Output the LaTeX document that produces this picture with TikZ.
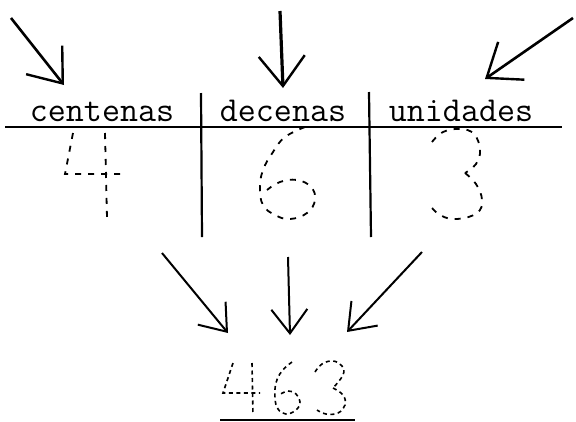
\documentclass[tikz,border=0pt]{standalone}
\usepackage{fontspec}
\usetikzlibrary{arrows.meta, positioning}

\begin{document}
\begin{tikzpicture}[
  x=1pt, y=-1pt,
  colhead/.style = {font=\fontsize{35}{38}\selectfont\ttfamily, inner sep=0pt, anchor=base},
  rule/.style    = {line width=2.2pt},
  bigarr/.style  = {-{Straight Barb[length=30pt, width=46pt, line width=2.4pt]}, line width=2.6pt},
  smallarr/.style= {-{Straight Barb[length=24pt, width=36pt, line width=2pt]}, line width=2pt},
  trace/.style   = {line width=1.8pt, dash pattern=on 6pt off 7pt},
  tracesm/.style = {line width=1.6pt, dash pattern=on 4pt off 3.5pt},
]
\useasboundingbox (0,0) rectangle (576,421);

% ── Column headings ───────────────────────────────────────────────────────────
\node[colhead] (cent) at (102,121) {centenas};
\node[colhead] (dec)  at (283,121) {decenas};
\node[colhead] (unid) at (461,121) {unidades};

% ── Table rules ───────────────────────────────────────────────────────────────
\coordinate (hl) at (5,127);
\coordinate (hr) at (562,127);
\draw[rule] (hl) -- (hr);
\draw[rule] (201,93) -- (202,237);
\draw[rule] (369,92) -- (371,237);

% ── Arrows into the table ─────────────────────────────────────────────────────
\coordinate (inC) at (11,18);
\coordinate (inD) at (280,11);
\coordinate (inU) at (573,18);
\coordinate (tipC) at (64,85);
\coordinate (tipD) at (283,88);
\coordinate (tipU) at (485,79);
\draw[bigarr] (inC) -- (tipC);
\draw[bigarr, line width=3.2pt] (inD) -- (tipD);
\draw[bigarr] (inU) -- (tipU);

% ── Traced digits in the table ────────────────────────────────────────────────
\draw[trace] (73,133) -- (65,174) -- (122,174);
\draw[trace] (105,133) -- (107,218);
\draw[trace] plot[smooth, tension=0.7] coordinates {(305,127) (285,137) (273,152)
  (263,170) (260,188) (263,205) (275,215) (290,219) (307,213) (315,200) (311,187)
  (297,180) (280,182) (267,190)};
\draw[trace] plot[smooth, tension=0.7] coordinates {(432,142) (443,132) (460,129)
  (474,134) (480,150) (476,164) (465,173)};
\draw[trace] plot[smooth, tension=0.7] coordinates {(465,173) (476,184) (482,200)
  (477,213) (457,219) (440,215) (428,203)};

% ── Arrows to the number ──────────────────────────────────────────────────────
\coordinate (outC) at (162,253);
\coordinate (outD) at (288,257);
\coordinate (outU) at (422,252);
\coordinate (numC) at (228,333);
\coordinate (numD) at (290,335);
\coordinate (numU) at (347,332);
\draw[smallarr] (outC) -- (numC);
\draw[smallarr] (outD) -- (numD);
\draw[smallarr] (outU) -- (numU);

% ── Traced number ─────────────────────────────────────────────────────────────
\draw[tracesm] (233,363) -- (223,393) -- (260,393);
\draw[tracesm] (252,363) -- (253,415);
\draw[tracesm] plot[smooth, tension=0.7] coordinates {(292,362) (282,371) (276,383)
  (275,398) (278,409) (286,414) (296,410) (300,402) (296,394) (288,391) (279,395)};
\draw[tracesm] plot[smooth, tension=0.7] coordinates {(315,372) (322,364) (333,361)
  (342,366) (343,375) (333,388)};
\draw[tracesm] plot[smooth, tension=0.7] coordinates {(333,388) (343,395) (345,405)
  (338,413) (326,414) (317,410)};
\coordinate (ul) at (220,419.5);
\coordinate (ur) at (355,419.5);
\draw[line width=2pt] (ul) -- (ur);

\end{tikzpicture}
\end{document}
